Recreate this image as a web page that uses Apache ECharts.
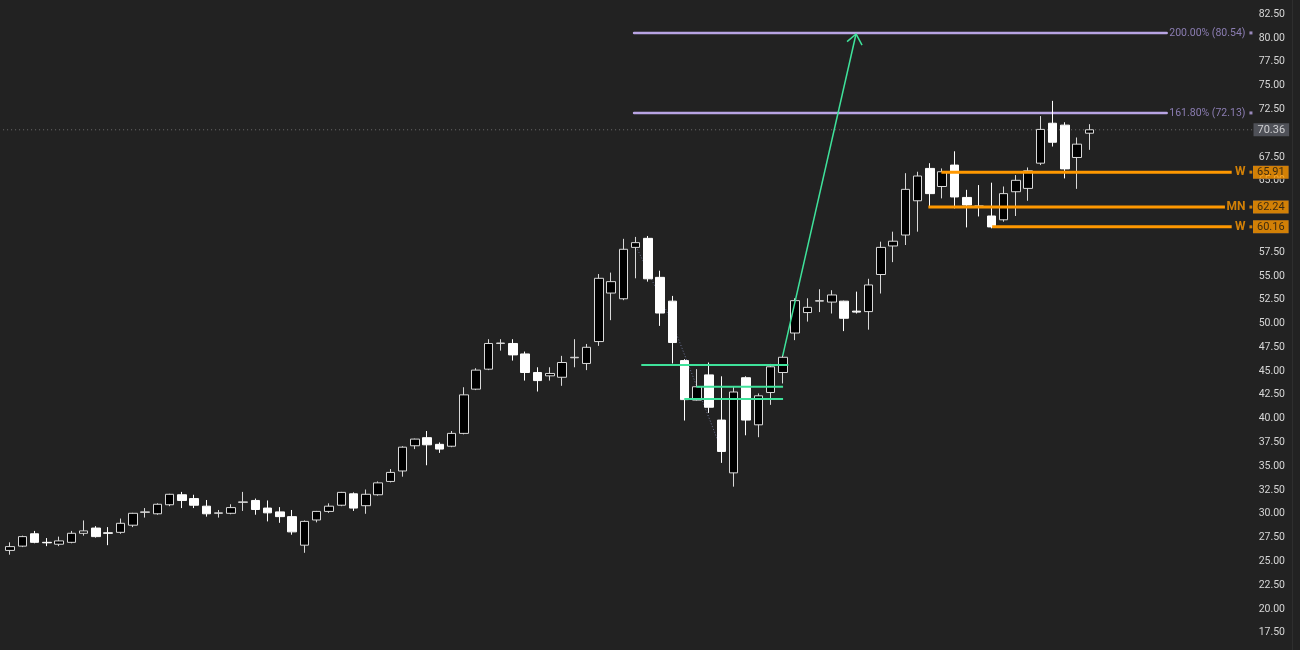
<!DOCTYPE html>
<html><head><meta charset="utf-8">
<script src="https://cdn.jsdelivr.net/npm/echarts@6/dist/echarts.min.js"></script>
<style>html,body{margin:0;padding:0;background:#222222;}#c{width:1300px;height:650px;}</style>
</head><body><div id="c"></div>
<script>
// ---- data ----
const opens  = [26.15,26.6,27.9,27.0,26.8,27.0,27.95,28.5,28.0,28.05,28.8,30.15,30.0,30.95,32.0,31.6,30.8,30.05,30.05,31.2,31.4,30.6,30.2,29.7,26.7,29.35,30.25,30.9,32.1,30.85,32.0,33.4,34.5,37.15,38.0,37.3,37.1,38.45,43.1,45.2,47.9,47.9,46.8,44.85,44.5,44.35,46.4,45.8,48.1,53.2,52.6,58.0,58.95,54.85,52.35,46.1,41.95,44.6,39.85,34.3,44.3,39.35,42.75,44.85,49.0,51.15,52.35,52.25,52.35,51.3,51.25,55.15,58.15,59.3,62.9,66.3,64.4,66.65,63.25,62.35,61.3,60.9,63.85,64.2,66.85,71.05,70.85,67.45,70.0];
const closes = [26.55,27.6,27.0,26.95,27.15,27.95,28.2,27.6,27.95,29.0,30.05,30.2,31.0,32.05,31.4,30.9,30.0,30.1,30.65,31.25,30.45,30.1,29.7,28.1,29.2,30.25,30.8,32.25,30.6,32.05,33.25,34.35,37.0,37.85,37.25,36.8,38.45,42.5,45.1,47.9,47.95,46.7,44.85,44.0,44.75,45.9,46.45,47.5,54.75,54.4,57.8,58.5,54.7,51.1,48.0,42.0,43.35,41.2,36.55,42.8,39.85,42.4,45.45,46.45,52.4,51.7,52.4,53.0,50.55,51.2,54.05,58.0,58.65,64.1,65.5,63.65,65.95,63.3,62.45,62.3,60.15,63.65,65.05,66.05,70.4,69.05,66.25,68.85,70.36];
const lows   = [25.7,26.5,26.9,26.6,26.6,26.9,27.7,27.5,26.7,27.9,28.6,29.6,29.9,30.8,30.6,30.6,29.7,29.6,29.95,30.3,29.9,29.2,29.05,27.8,25.9,29.1,30.1,30.8,30.3,30.0,31.9,33.3,33.9,36.8,35.1,36.4,37.0,38.35,43.0,45.1,47.15,46.1,44.0,42.85,44.0,43.45,45.4,45.1,47.65,50.35,52.45,54.75,54.4,49.75,45.8,39.8,41.9,40.6,35.35,32.85,38.25,38.05,41.45,43.7,48.25,50.2,51.2,51.05,49.2,51.05,49.35,53.15,56.45,58.25,59.65,62.3,63.15,62.1,60.1,61.25,60.0,60.7,61.3,62.9,66.65,68.6,65.25,64.15,68.25];
const highs  = [27.0,27.7,28.2,27.45,27.6,28.2,29.3,28.7,28.6,29.5,30.1,30.6,31.1,32.1,32.3,32.0,31.45,30.4,31.0,32.3,31.6,31.4,30.7,30.4,29.3,30.3,31.1,32.3,32.25,32.55,33.4,34.7,37.1,37.9,38.7,37.5,38.7,43.3,45.3,48.35,48.35,48.35,47.05,45.4,45.4,46.6,48.35,47.85,55.2,55.35,58.9,59.1,59.2,55.55,52.9,46.25,45.2,45.9,44.45,43.35,44.45,42.65,45.75,46.7,52.65,52.65,53.6,53.5,52.4,53.35,54.7,58.6,59.65,65.8,65.95,66.85,66.3,68.1,64.05,64.55,64.8,64.4,65.6,66.4,71.8,73.4,71.15,69.55,70.95];
const categories = opens.map((_, i) => 'D' + (i + 1));
const emptySlots = 13;                      // unused space to the right of the last bar
const yMin = 15, yMax = 85, yStep = 2.5;
const lastPrice = 70.36;
const fibLevels = [{ name: '200.00%', value: 80.54 }, { name: '161.80%', value: 72.13 }];
const fibRange = [50.87, 94.3];
const zoneLevels = [
  { name: 'W',  value: 65.91, from: 75.93, to: 99.6 },
  { name: 'MN', value: 62.24, from: 74.87, to: 99.05 },
  { name: 'W',  value: 60.16, from: 80.07, to: 99.6 }
];
const greenLevels = [
  { value: 45.64, from: 51.46, to: 63.45 },
  { value: 43.36, from: 55.95, to: 63.02 },
  { value: 42.07, from: 54.97, to: 63.02 }
];
const arrowLine = [[62.99, 46.59], [68.97, 80.43]];
const arrowHead = [[68.24, 79.62], [68.97, 80.43], [69.46, 79.27]];
const dottedTrend = [[51.05, 58.07], [54.0, 50.0], [57.63, 37.93]];
const tagX = 101.17;

// ---- chart ----
const N = categories.length + emptySlots;
const xCats = categories.concat(new Array(emptySlots).fill(''));
const candles = opens.map((o, i) => [o, closes[i], lows[i], highs[i]]);
const FONT = 'Roboto, "Noto Sans", sans-serif';
const ORANGE = '#ff9800', PURPLE = '#b8a4e3', GREEN = '#3fe29b';
const tagValues = zoneLevels.map(z => z.value).concat([lastPrice]);

const series = [{
  type: 'candlestick', xAxisIndex: 0, yAxisIndex: 0, data: candles, barWidth: 9,
  itemStyle: { color: '#000000', color0: '#ffffff', borderColor: '#d9d9d9', borderColor0: '#ffffff', borderWidth: 1 },
  z: 5
}];
function seg(data, style, z) {
  series.push({ type: 'line', xAxisIndex: 1, yAxisIndex: 0, data, symbol: 'none', silent: true,
    lineStyle: style, z: z || 3, clip: false, animation: false });
}
seg([[-0.9, lastPrice], [N - 0.5, lastPrice]], { color: '#6e6e6e', width: 1, type: [1, 3] }, 2);
fibLevels.forEach(f => seg([[fibRange[0], f.value], [fibRange[1], f.value]], { color: PURPLE, width: 2.5, cap: 'round' }, 3));
zoneLevels.forEach(z => seg([[z.from, z.value], [z.to, z.value]], { color: ORANGE, width: 3 }, 6));
greenLevels.forEach(g => seg([[g.from, g.value], [g.to, g.value]], { color: GREEN, width: 2 }, 7));
seg(arrowLine, { color: GREEN, width: 1.5 }, 7);
seg(arrowHead, { color: GREEN, width: 1.5 }, 7);
seg(dottedTrend, { color: '#6c7396', width: 1, type: [1, 2] }, 4);

series.push({
  type: 'scatter', xAxisIndex: 1, yAxisIndex: 0, clip: false, silent: true, animation: false,
  symbol: 'rect', symbolSize: 3, itemStyle: { color: PURPLE },
  data: fibLevels.map(f => ({ value: [tagX, f.value], name: f.name })),
  label: { show: true, position: 'left', distance: 4, color: '#a594d6', fontSize: 10.5, fontFamily: FONT,
    formatter: p => p.name + ' (' + p.value[1].toFixed(2) + ')' }, z: 8
});
series.push({
  type: 'scatter', xAxisIndex: 1, yAxisIndex: 0, clip: false, silent: true, animation: false,
  symbol: 'rect', symbolSize: 3, itemStyle: { color: ORANGE },
  data: zoneLevels.map(z => ({ value: [tagX, z.value], name: z.name })),
  label: { show: true, position: 'left', distance: 4, color: ORANGE, fontSize: 12, fontWeight: 'bold', fontFamily: FONT,
    formatter: p => p.name }, z: 8
});
series.push({
  type: 'scatter', xAxisIndex: 1, yAxisIndex: 0, clip: false, silent: true, animation: false, zlevel: 2,
  symbol: 'rect', symbolSize: 0.1, itemStyle: { color: 'rgba(0,0,0,0)' },
  data: zoneLevels.map(z => [tagX, z.value]),
  label: { show: true, position: 'right', distance: 2, color: '#141414', fontSize: 11, fontFamily: FONT,
    backgroundColor: ORANGE, borderColor: '#1b2540', borderWidth: 0.5, padding: [1, 4, 0, 4], lineHeight: 12,
    formatter: p => p.value[1].toFixed(2) }, z: 10
});
series.push({
  type: 'scatter', xAxisIndex: 1, yAxisIndex: 0, clip: false, silent: true, animation: false, zlevel: 2,
  symbol: 'rect', symbolSize: 0.1, itemStyle: { color: 'rgba(0,0,0,0)' },
  data: [[tagX, lastPrice]],
  label: { show: true, position: 'right', distance: 2.5, color: '#ececec', fontSize: 11, fontFamily: FONT,
    backgroundColor: '#5b5e66', padding: [1, 4, 0, 4], lineHeight: 12,
    formatter: p => p.value[1].toFixed(2) }, z: 10
});

const chart = echarts.init(document.getElementById('c'), null, { renderer: 'canvas' });
chart.setOption({
  backgroundColor: '#222222',
  animation: false,
  grid: { left: 4, right: 45, top: -9.5, bottom: -6.5, containLabel: false, outerBoundsMode: 'none' },
  xAxis: [
    { type: 'category', data: xCats, boundaryGap: true, show: false },
    { type: 'value', min: -0.5, max: N - 0.5, show: false }
  ],
  yAxis: [{
    type: 'value', position: 'right', min: yMin, max: yMax, interval: yStep, z: 0,
    axisLine: { show: false }, axisTick: { show: false }, splitLine: { show: false },
    axisLabel: { color: '#d6d6d6', fontSize: 10.5, fontFamily: FONT, align: 'right', margin: 30,
      // ticks covered by a price tag are not visible in the original
      formatter: v => tagValues.some(t => Math.abs(t - v) < 0.5) ? '' : v.toFixed(2) }
  }],
  graphic: [{ type: 'line', shape: { x1: 1292.5, y1: 0, x2: 1292.5, y2: 650 }, style: { stroke: '#2e2e2e', lineWidth: 1 }, silent: true }],
  series
});
</script></body></html>
